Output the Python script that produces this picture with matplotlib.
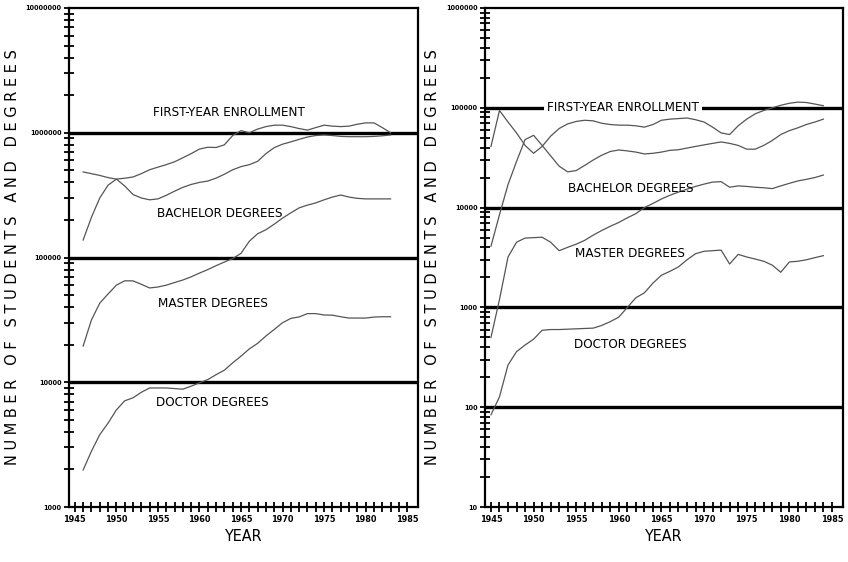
import matplotlib
matplotlib.use('Agg')
import matplotlib.pyplot as plt
import numpy as np
from matplotlib.ticker import FixedLocator, LogLocator, NullFormatter

# left panel: all degrees, 1946-1983
years_left = list(range(1946, 1984))
first_year_left = [485e3, 470e3, 455e3, 437e3, 425e3, 432e3, 442e3, 470e3, 505e3, 530e3,
                   555e3, 585e3, 630e3, 680e3, 740e3, 765e3, 762e3, 800e3, 950e3, 1.04e6,
                   1.0e6, 1.07e6, 1.12e6, 1.15e6, 1.15e6, 1.12e6, 1.08e6, 1.05e6, 1.1e6, 1.15e6,
                   1.13e6, 1.12e6, 1.13e6, 1.17e6, 1.2e6, 1.2e6, 1.1e6, 1.0e6]
bachelor_left = [138e3, 210e3, 300e3, 380e3, 425e3, 375e3, 320e3, 300e3, 290e3, 295e3,
                 315e3, 340e3, 365e3, 385e3, 400e3, 410e3, 433e3, 465e3, 505e3, 535e3,
                 555e3, 590e3, 680e3, 760e3, 810e3, 845e3, 885e3, 925e3, 950e3, 960e3,
                 950e3, 935e3, 930e3, 930e3, 930e3, 935e3, 945e3, 960e3]
master_left = [19.5e3, 31.6e3, 43e3, 51e3, 60e3, 65e3, 65e3, 61e3, 57e3, 58e3,
               60e3, 63e3, 66e3, 70e3, 75e3, 80e3, 86e3, 92e3, 98e3, 108e3,
               135e3, 155e3, 167e3, 185e3, 207e3, 228e3, 250e3, 263e3, 274e3, 290e3,
               305e3, 317e3, 305e3, 298e3, 295e3, 295e3, 295e3, 295e3]
doctor_left = [1980, 2800, 3800, 4700, 6000, 7100, 7500, 8300, 9000, 9000,
               9000, 8900, 8800, 9300, 9900, 10500, 11500, 12500, 14300, 16200,
               18500, 20500, 23500, 26500, 30000, 32500, 33400, 35500, 35500, 34600,
               34500, 33500, 32700, 32700, 32700, 33300, 33500, 33500]

# right panel: engineering, 1945-1984
years_right = list(range(1945, 1985))
first_year_right = [41e3, 94e3, 72e3, 56e3, 42e3, 35e3, 41e3, 52e3, 62e3, 69e3,
                    73e3, 75e3, 74e3, 70e3, 68e3, 67e3, 67e3, 66e3, 64e3, 68e3,
                    75e3, 77e3, 78e3, 79e3, 76e3, 72e3, 64e3, 56e3, 54e3, 66e3,
                    77e3, 87e3, 94e3, 100e3, 106e3, 111e3, 114e3, 113e3, 109e3, 105e3]
bachelor_right = [4.1e3, 8.5e3, 17e3, 29e3, 48e3, 53e3, 42e3, 33e3, 26e3, 22.8e3,
                  23.5e3, 26.5e3, 30e3, 33.5e3, 36.5e3, 37.8e3, 37e3, 36e3, 34.5e3, 35e3,
                  36e3, 37.5e3, 38e3, 39.5e3, 41e3, 42.5e3, 44e3, 45.5e3, 44e3, 42e3,
                  38.5e3, 38.5e3, 42e3, 47e3, 54e3, 59e3, 63e3, 68e3, 72e3, 77e3]
master_right = [500, 1200, 3200, 4500, 4950, 5000, 5050, 4500, 3700, 4000,
                4300, 4700, 5300, 5900, 6500, 7100, 7900, 8700, 10000, 11000,
                12200, 13300, 14300, 15300, 16300, 17200, 18000, 18200, 16000, 16500,
                16300, 16000, 15800, 15500, 16500, 17500, 18500, 19200, 20000, 21200]
doctor_right = [84, 127, 265, 360, 420, 480, 590, 600, 600, 605,
                610, 615, 620, 660, 720, 800, 1000, 1250, 1400, 1750,
                2100, 2300, 2550, 3000, 3450, 3650, 3700, 3750, 2720, 3400,
                3200, 3050, 2900, 2650, 2250, 2850, 2900, 3000, 3150, 3300]

labels = ['FIRST-YEAR ENROLLMENT', 'BACHELOR DEGREES', 'MASTER DEGREES', 'DOCTOR DEGREES']
label_left_pos = [(1963.5, 1.44e6), (1962.5, 227e3), (1961.6, 43e3), (1961.6, 6.9e3)]
label_right_pos = [(1960.5, 1e5), (1961.4, 15.7e3), (1961.3, 3.43e3), (1961.3, 420)]

font = dict(family='DejaVu Sans', stretch='condensed')
line_color = '#555555'

fig = plt.figure(figsize=(8.48, 5.62), dpi=100)
ax_l = fig.add_axes([69 / 848, 55 / 562, 349 / 848, 499 / 562])
ax_r = fig.add_axes([485 / 848, 55 / 562, 358 / 848, 499 / 562])


def style_axes(ax, ylo, yhi):
    ax.set_yscale('log')
    ax.set_xlim(1944.3, 1986.3)
    ax.set_ylim(ylo, yhi)
    decades = [10 ** k for k in range(int(np.log10(ylo)), int(np.log10(yhi)) + 1)]
    ax.yaxis.set_major_locator(FixedLocator(decades))
    ax.set_yticklabels([str(int(d)) for d in decades], fontsize=5.2,
                       fontweight='bold', **font)
    ax.yaxis.set_minor_locator(LogLocator(base=10, subs=np.arange(2, 10)))
    ax.yaxis.set_minor_formatter(NullFormatter())
    ax.xaxis.set_major_locator(FixedLocator(range(1945, 1986, 5)))
    ax.xaxis.set_minor_locator(FixedLocator(range(1945, 1986)))
    ax.set_xticklabels([str(y) for y in range(1945, 1986, 5)], fontsize=6.5,
                       fontweight='bold', **font)
    ax.tick_params(which='both', direction='inout', length=7, width=1.3,
                   top=False, right=False, pad=2)
    for s in ax.spines.values():
        s.set_linewidth(1.6)
    for d in decades[1:-1]:
        ax.axhline(d, color='black', lw=2.4, zorder=1)
    ax.set_xlabel('YEAR', fontsize=11.5, labelpad=4, **font)
    ax.set_ylabel('N U M B E R   O F   S T U D E N T S   A N D   D E G R E E S',
                  fontsize=10.5, labelpad=4)


style_axes(ax_l, 1e3, 1e7)
style_axes(ax_r, 10, 1e6)

for ys in [first_year_left, bachelor_left, master_left, doctor_left]:
    ax_l.plot(years_left, ys, color=line_color, lw=0.9, zorder=2)
for ys in [first_year_right, bachelor_right, master_right, doctor_right]:
    ax_r.plot(years_right, ys, color=line_color, lw=0.9, zorder=2)

for text, (x, y) in zip(labels, label_left_pos):
    ax_l.text(x, y, text, ha='center', va='center', fontsize=9.6, zorder=3, **font)
for i, (text, (x, y)) in enumerate(zip(labels, label_right_pos)):
    box = dict(facecolor='white', edgecolor='none', pad=2) if i == 0 else None
    ax_r.text(x, y, text, ha='center', va='center', fontsize=9.6,
              bbox=box, zorder=3, **font)

fig.savefig('out.png', dpi=100)
